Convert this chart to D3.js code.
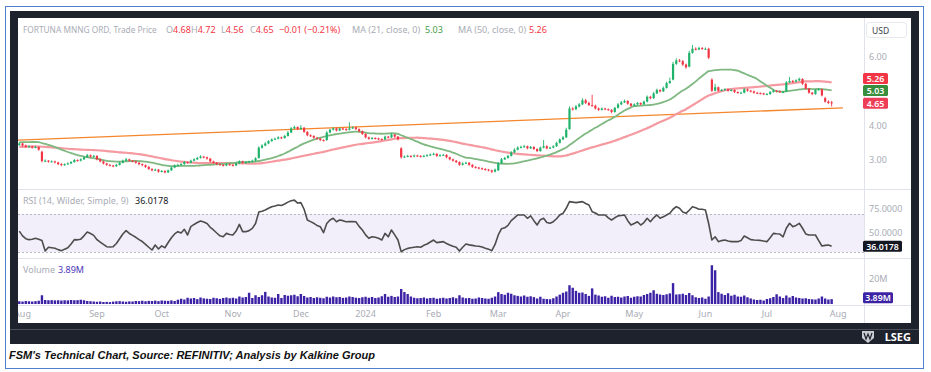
<!DOCTYPE html>
<html>
<head>
<meta charset="utf-8">
<script src="https://cdn.jsdelivr.net/npm/d3@7"></script>
<style>
  body { margin: 0; background: #fff; }
  svg { display: block; font-family: "Noto Sans", "DejaVu Sans", sans-serif; }
</style>
</head>
<body>
<svg id="chart" width="931" height="372"></svg>
<script>
// ---- data (daily bars, Jul 31 2023 .. Jul 30 2024) ----
const holidays = ["2023-09-04", "2023-11-23", "2023-12-25", "2024-01-01", "2024-01-15",
  "2024-02-19", "2024-03-29", "2024-05-27", "2024-06-19", "2024-07-04"];

// closes of the 50 sessions before the window, only used to seed the moving averages
const priorClose = [
  3.30, 3.26, 3.22, 3.25, 3.28, 3.31, 3.34, 3.30, 3.27, 3.24,
  3.22, 3.26, 3.30, 3.33, 3.36, 3.32, 3.29, 3.26, 3.28, 3.31,
  3.33, 3.30, 3.27, 3.25, 3.28, 3.30, 3.32, 3.29, 3.27, 3.30,
  3.30, 3.33, 3.36, 3.34, 3.38, 3.42, 3.46, 3.52, 3.56, 3.60,
  3.62, 3.64, 3.61, 3.63, 3.66, 3.62, 3.58, 3.60, 3.56, 3.50];

const open = [
  3.44, 3.48, 3.42, 3.38, 3.40, 3.36, 3.38, 3.24, 2.97, 2.98,
  2.95, 2.96, 2.93, 2.88, 2.85, 2.88, 2.90, 2.94, 3.00, 2.98,
  3.02, 3.08, 3.14, 3.10, 3.12, 3.02, 2.96, 2.90, 2.86, 2.84,
  2.82, 2.86, 2.92, 2.98, 3.02, 2.98, 2.96, 2.92, 2.88, 2.85,
  2.80, 2.74, 2.70, 2.72, 2.66, 2.68, 2.64, 2.70, 2.78, 2.84,
  2.86, 2.88, 2.94, 2.92, 2.98, 3.02, 3.06, 3.10, 3.08, 3.04,
  2.96, 2.92, 2.88, 2.86, 2.84, 2.88, 2.86, 2.84, 2.90, 2.96,
  2.92, 2.93, 2.95, 2.98, 3.06, 3.36, 3.42, 3.48, 3.55, 3.60,
  3.62, 3.66, 3.64, 3.70, 3.80, 3.92, 3.96, 3.90, 3.94, 3.82,
  3.72, 3.70, 3.65, 3.62, 3.58, 3.58, 3.80, 3.88, 3.92, 3.86,
  3.92, 3.90, 3.88, 3.92, 3.95, 3.90, 3.84, 3.76, 3.66, 3.62,
  3.64, 3.63, 3.61, 3.60, 3.68, 3.66, 3.74, 3.68, 3.34, 3.08,
  3.10, 3.12, 3.10, 3.13, 3.12, 3.10, 3.12, 3.14, 3.16, 3.18,
  3.12, 3.14, 3.15, 3.08, 3.02, 2.98, 2.94, 2.86, 2.90, 2.92,
  2.86, 2.80, 2.78, 2.76, 2.74, 2.72, 2.70, 2.66, 2.70, 2.90,
  3.02, 3.06, 3.12, 3.22, 3.30, 3.36, 3.38, 3.40, 3.34, 3.38,
  3.32, 3.26, 3.36, 3.40, 3.34, 3.36, 3.40, 3.50, 3.60, 3.66,
  3.90, 4.50, 4.48, 4.56, 4.62, 4.74, 4.66, 4.60, 4.58, 4.50,
  4.46, 4.50, 4.48, 4.46, 4.40, 4.52, 4.62, 4.68, 4.72, 4.64,
  4.58, 4.62, 4.66, 4.62, 4.70, 4.84, 4.80, 4.94, 5.04, 5.00,
  5.10, 5.24, 5.34, 5.80, 5.90, 5.88, 5.78, 5.72, 6.12, 6.24,
  6.22, 6.26, 6.24, 6.24, 5.34, 5.02, 5.12, 5.02, 5.04, 5.06,
  5.02, 5.04, 4.98, 4.96, 4.96, 5.06, 5.02, 5.00, 4.96, 4.95,
  4.94, 4.92, 4.92, 4.98, 5.02, 5.00, 4.98, 5.00, 5.26, 5.30,
  5.28, 5.32, 5.36, 5.22, 5.08, 4.96, 4.92, 5.04, 5.06, 4.80,
  4.70, 4.68];

const high = [
  3.52, 3.50, 3.45, 3.43, 3.42, 3.41, 3.40, 3.27, 3.02, 3.00,
  2.99, 2.98, 2.95, 2.91, 2.90, 2.93, 2.97, 3.03, 3.02, 3.05,
  3.11, 3.18, 3.16, 3.15, 3.14, 3.05, 2.98, 2.92, 2.88, 2.86,
  2.89, 2.95, 3.01, 3.06, 3.04, 3.00, 2.98, 2.94, 2.90, 2.87,
  2.82, 2.76, 2.75, 2.74, 2.71, 2.70, 2.72, 2.81, 2.87, 2.89,
  2.91, 2.97, 2.96, 3.01, 3.05, 3.09, 3.14, 3.12, 3.10, 3.06,
  2.98, 2.94, 2.90, 2.88, 2.91, 2.90, 2.88, 2.93, 2.99, 2.98,
  2.96, 2.98, 3.01, 3.08, 3.40, 3.46, 3.52, 3.58, 3.63, 3.65,
  3.69, 3.68, 3.73, 3.84, 3.96, 4.00, 3.98, 4.02, 3.96, 3.84,
  3.75, 3.72, 3.67, 3.64, 3.60, 3.84, 3.91, 3.95, 3.94, 3.95,
  3.94, 3.93, 4.10, 3.98, 3.97, 3.92, 3.86, 3.78, 3.68, 3.67,
  3.66, 3.65, 3.63, 3.71, 3.70, 3.78, 3.76, 3.70, 3.37, 3.13,
  3.15, 3.14, 3.16, 3.15, 3.14, 3.15, 3.17, 3.19, 3.21, 3.20,
  3.17, 3.18, 3.17, 3.10, 3.04, 3.00, 2.96, 2.93, 2.95, 2.94,
  2.88, 2.82, 2.80, 2.78, 2.76, 2.74, 2.72, 2.75, 2.94, 3.06,
  3.09, 3.15, 3.26, 3.34, 3.40, 3.42, 3.44, 3.42, 3.41, 3.40,
  3.34, 3.39, 3.58, 3.43, 3.39, 3.43, 3.53, 3.63, 3.70, 3.94,
  4.56, 4.54, 4.60, 4.66, 4.80, 4.78, 4.70, 4.90, 4.61, 4.53,
  4.53, 4.52, 4.50, 4.48, 4.55, 4.66, 4.72, 4.76, 4.74, 4.66,
  4.65, 4.69, 4.68, 4.73, 4.88, 4.87, 4.98, 5.08, 5.06, 5.14,
  5.28, 5.40, 5.86, 5.96, 5.94, 5.91, 5.81, 6.18, 6.35, 6.28,
  6.30, 6.29, 6.28, 6.27, 5.38, 5.22, 5.14, 5.07, 5.09, 5.08,
  5.07, 5.06, 5.00, 4.99, 5.10, 5.08, 5.04, 5.02, 4.98, 4.97,
  4.96, 4.95, 5.01, 5.05, 5.04, 5.02, 5.01, 5.30, 5.42, 5.33,
  5.35, 5.40, 5.38, 5.24, 5.10, 4.98, 5.07, 5.09, 5.08, 4.84,
  4.74, 4.72];

const low = [
  3.41, 3.39, 3.35, 3.36, 3.33, 3.34, 3.27, 2.93, 2.94, 2.92,
  2.93, 2.90, 2.85, 2.82, 2.83, 2.86, 2.88, 2.92, 2.95, 2.96,
  3.00, 3.06, 3.07, 3.08, 2.99, 2.93, 2.87, 2.83, 2.81, 2.79,
  2.80, 2.84, 2.90, 2.96, 2.95, 2.93, 2.89, 2.85, 2.82, 2.77,
  2.71, 2.67, 2.68, 2.63, 2.64, 2.61, 2.62, 2.68, 2.76, 2.82,
  2.84, 2.86, 2.89, 2.90, 2.96, 3.00, 3.04, 3.05, 3.01, 2.93,
  2.89, 2.85, 2.83, 2.81, 2.82, 2.83, 2.81, 2.82, 2.88, 2.89,
  2.90, 2.91, 2.93, 2.96, 3.04, 3.33, 3.40, 3.46, 3.53, 3.58,
  3.60, 3.61, 3.62, 3.68, 3.78, 3.90, 3.87, 3.88, 3.79, 3.69,
  3.67, 3.62, 3.59, 3.55, 3.54, 3.56, 3.78, 3.86, 3.83, 3.84,
  3.87, 3.85, 3.86, 3.90, 3.87, 3.81, 3.73, 3.63, 3.59, 3.60,
  3.60, 3.58, 3.57, 3.58, 3.63, 3.64, 3.65, 3.57, 3.04, 3.06,
  3.08, 3.07, 3.08, 3.09, 3.07, 3.08, 3.10, 3.12, 3.14, 3.09,
  3.10, 3.12, 3.05, 2.99, 2.95, 2.91, 2.83, 2.84, 2.88, 2.83,
  2.77, 2.75, 2.73, 2.71, 2.69, 2.67, 2.62, 2.64, 2.68, 2.88,
  3.00, 3.04, 3.10, 3.20, 3.28, 3.34, 3.36, 3.31, 3.32, 3.29,
  3.23, 3.24, 3.34, 3.31, 3.32, 3.34, 3.38, 3.48, 3.58, 3.64,
  3.88, 4.44, 4.45, 4.53, 4.60, 4.63, 4.57, 4.55, 4.47, 4.43,
  4.44, 4.45, 4.43, 4.36, 4.38, 4.50, 4.60, 4.66, 4.61, 4.55,
  4.56, 4.60, 4.59, 4.60, 4.68, 4.77, 4.78, 4.92, 4.97, 4.98,
  5.08, 5.22, 5.32, 5.77, 5.85, 5.74, 5.66, 5.70, 6.10, 6.19,
  6.20, 6.21, 6.21, 5.94, 4.98, 5.00, 4.99, 5.00, 5.02, 4.99,
  5.00, 4.95, 4.93, 4.93, 4.94, 4.99, 4.97, 4.93, 4.92, 4.91,
  4.89, 4.89, 4.90, 4.96, 4.97, 4.95, 4.95, 4.98, 5.24, 5.25,
  5.26, 5.30, 5.19, 5.05, 4.93, 4.89, 4.90, 5.02, 4.85, 4.67,
  4.63, 4.56];

const close = [
  3.48, 3.42, 3.38, 3.40, 3.36, 3.38, 3.30, 2.97, 2.98, 2.95,
  2.96, 2.93, 2.88, 2.85, 2.88, 2.90, 2.94, 3.00, 2.98, 3.02,
  3.08, 3.14, 3.10, 3.12, 3.02, 2.96, 2.90, 2.86, 2.84, 2.82,
  2.86, 2.92, 2.98, 3.02, 2.98, 2.96, 2.92, 2.88, 2.85, 2.80,
  2.74, 2.70, 2.72, 2.66, 2.68, 2.64, 2.70, 2.78, 2.84, 2.86,
  2.88, 2.94, 2.92, 2.98, 3.02, 3.06, 3.10, 3.08, 3.04, 2.96,
  2.92, 2.88, 2.86, 2.84, 2.88, 2.86, 2.84, 2.90, 2.96, 2.92,
  2.93, 2.95, 2.98, 3.05, 3.36, 3.42, 3.48, 3.55, 3.60, 3.62,
  3.66, 3.64, 3.70, 3.80, 3.92, 3.96, 3.90, 3.94, 3.82, 3.72,
  3.70, 3.65, 3.62, 3.58, 3.57, 3.80, 3.88, 3.92, 3.86, 3.92,
  3.90, 3.88, 3.92, 3.95, 3.90, 3.84, 3.76, 3.66, 3.62, 3.64,
  3.63, 3.61, 3.60, 3.68, 3.66, 3.74, 3.68, 3.60, 3.08, 3.10,
  3.12, 3.10, 3.13, 3.12, 3.10, 3.12, 3.14, 3.16, 3.18, 3.12,
  3.14, 3.15, 3.08, 3.02, 2.98, 2.94, 2.86, 2.90, 2.92, 2.86,
  2.80, 2.78, 2.76, 2.74, 2.72, 2.70, 2.66, 2.72, 2.90, 3.02,
  3.06, 3.12, 3.22, 3.30, 3.36, 3.38, 3.40, 3.34, 3.38, 3.32,
  3.26, 3.36, 3.40, 3.34, 3.36, 3.40, 3.50, 3.60, 3.66, 3.88,
  4.50, 4.48, 4.56, 4.62, 4.74, 4.66, 4.60, 4.58, 4.50, 4.46,
  4.50, 4.48, 4.46, 4.40, 4.52, 4.62, 4.68, 4.72, 4.64, 4.58,
  4.62, 4.66, 4.62, 4.70, 4.84, 4.80, 4.94, 5.04, 5.00, 5.10,
  5.24, 5.30, 5.80, 5.90, 5.88, 5.78, 5.70, 6.12, 6.24, 6.22,
  6.26, 6.24, 6.24, 5.98, 5.02, 5.12, 5.02, 5.04, 5.06, 5.02,
  5.04, 4.98, 4.96, 4.96, 5.06, 5.02, 5.00, 4.96, 4.95, 4.94,
  4.92, 4.92, 4.98, 5.02, 5.00, 4.98, 4.98, 5.26, 5.30, 5.28,
  5.32, 5.36, 5.22, 5.08, 4.96, 4.92, 5.04, 5.06, 4.88, 4.70,
  4.66, 4.65];

// millions of shares
const volume = [
  2.2, 2.0, 2.4, 2.2, 2.0, 2.3, 2.6, 7.0, 3.2, 3.0,
  3.1, 2.9, 3.0, 2.8, 3.0, 2.9, 3.2, 3.0, 3.1, 3.4,
  3.0, 2.4, 2.2, 2.0, 1.8, 2.0, 1.6, 1.7, 1.5, 1.9,
  2.2, 2.3, 2.0, 1.8, 2.1, 2.0, 2.4, 2.3, 2.6, 2.2,
  2.5, 2.4, 2.7, 2.3, 2.8, 2.6, 2.5, 2.9, 2.4, 3.4,
  4.2, 3.6, 5.0, 4.4, 4.8, 3.9, 5.2, 4.5, 4.2, 4.0,
  5.0, 4.6, 4.1, 4.8, 5.2, 4.6, 5.0, 4.4, 6.0, 5.2,
  5.6, 9.0, 4.8, 7.0, 5.6, 7.0, 9.7, 6.0, 5.2, 5.0,
  8.0, 4.8, 7.2, 6.6, 7.0, 7.4, 6.2, 8.0, 6.4, 5.2,
  5.6, 4.8, 5.4, 5.0, 4.6, 5.8, 5.2, 6.0, 5.4, 5.6,
  4.9, 5.2, 6.0, 5.6, 5.0, 4.8, 5.4, 5.8, 5.0, 5.6,
  4.8, 5.2, 6.2, 8.0, 5.8, 6.5, 5.6, 6.0, 12.0, 9.6,
  8.0, 6.0, 5.0, 4.6, 4.8, 5.2, 4.4, 4.8, 5.0, 4.2,
  4.6, 5.0, 4.4, 4.8, 5.4, 4.6, 7.0, 5.2, 4.6, 4.8,
  4.2, 4.4, 5.2, 4.8, 4.4, 4.2, 5.0, 6.0, 9.5, 8.0,
  7.4, 9.0, 8.2, 7.0, 6.5, 6.0, 6.8, 5.8, 6.2, 5.5,
  4.4, 5.8, 4.2, 4.0, 3.8, 4.6, 6.0, 7.5, 9.0, 10.0,
  15.0, 13.0, 10.5, 9.0, 9.2, 8.0, 6.5, 12.5, 7.5, 6.8,
  5.8, 6.2, 5.0, 6.6, 5.6, 5.8, 5.2, 6.0, 6.4, 5.0,
  5.8, 6.2, 6.0, 7.2, 8.0, 9.0, 11.0, 8.2, 7.6, 7.2,
  7.8, 8.5, 16.7, 7.6, 7.8, 8.2, 7.2, 8.8, 7.0, 5.4,
  4.8, 5.2, 4.2, 6.0, 31.0, 27.0, 9.5, 8.2, 7.2, 8.6,
  6.6, 7.4, 6.0, 5.8, 6.8, 5.4, 4.4, 3.6, 3.2, 3.4,
  2.8, 4.0, 4.6, 5.6, 7.8, 6.0, 4.8, 6.8, 5.2, 6.4,
  5.2, 4.8, 4.4, 4.6, 4.0, 3.8, 3.6, 4.4, 6.0, 4.4,
  3.6, 3.89];

// RSI(14) as plotted
const rsi = [
  52, 47, 44, 43, 43.5, 44.4, 43.5, 42, 31, 35,
  34.5, 34, 32.5, 31.4, 33, 34.5, 38.5, 43, 42.8, 43.5,
  47, 51, 49.5, 47.5, 43, 40.5, 38, 35.6, 35.2, 35.6,
  39, 44, 49, 52.5, 49.5, 47.5, 45.5, 43, 41, 38,
  35, 32.1, 37.4, 33.2, 36.5, 34.5, 40, 45, 49, 51.4,
  50, 53.9, 47.9, 56.7, 59, 61, 62.6, 61.5, 60, 56,
  53.2, 50, 47, 46, 49.6, 48.5, 47.9, 52, 59, 51.4,
  51.4, 52.5, 54.9, 60, 72, 73, 74.2, 76, 77.7, 78.5,
  79.5, 79, 80.5, 82.5, 84, 84.6, 81.5, 82, 75, 63.7,
  62, 60.2, 58, 56.7, 50.3, 60, 63.7, 65.5, 61.9, 63.7,
  63, 61.9, 62, 62, 61.9, 57, 53.2, 48, 44.4, 46,
  45.5, 44.4, 42.6, 49.6, 46, 53.2, 48, 42.6, 30.3, 32.5,
  33.8, 34.5, 35, 35.5, 35, 37, 38.4, 40.5, 42.6, 39.9,
  40.4, 40.9, 39, 37.4, 36, 35, 31, 35, 38.4, 37.5,
  37, 36.3, 36, 35.2, 34, 33, 31.4, 38, 48, 54.5,
  55.5, 58, 63, 66, 69, 69, 69, 65.5, 68, 63,
  58.4, 64, 65.5, 61, 60.2, 61.9, 65, 69, 70.7, 76,
  83, 82.5, 82, 82.5, 83, 81, 79.5, 72.4, 71, 69,
  69, 69, 66, 63.7, 66, 68, 68.5, 69, 63, 58.4,
  60, 61.9, 58.4, 61, 65.5, 61.9, 66, 69, 65.5, 67,
  69, 70.7, 75, 77.7, 76, 72, 70.7, 74, 77.7, 76.5,
  75, 75, 74.2, 60, 42.6, 46, 40.9, 42, 42.6, 41.5,
  40.9, 41, 40.9, 42, 46.8, 45, 43, 42.6, 42.4, 42.2,
  41.5, 40.9, 45, 49.6, 49.2, 48.9, 46, 55, 60.2, 56.7,
  58, 60.2, 55, 49, 47.9, 47.9, 47.9, 42, 36.3, 37,
  37.4, 36.0178];

// hand-drawn trend line: [bar index, price] at both ends
const trendIdx = [-0.4, 254.5];
const trendPrice = [3.58, 4.52];

const rsiTicks = [50, 75];
const volTicks = [20];

// ---- layout ----
const plotL = 18, plotR = 864, axisR = 911;
const mainTop = 18, mainBot = 189, rsiBot = 258, volBot = 305, chartBot = 323;
const upColor = "#1fb26a", downColor = "#f23645";
const textGray = "#a9acb5";

// trading days, used for the month labels
const parseDay = d3.utcParse("%Y-%m-%d"), fmtDay = d3.utcFormat("%Y-%m-%d");
const days = d3.utcDay.range(parseDay("2023-07-31"), parseDay("2024-08-06"))
  .filter((d) => d.getUTCDay() % 6 !== 0 && !holidays.includes(fmtDay(d)));

// moving averages of close, seeded with the earlier sessions
const allClose = priorClose.concat(close);
const sma = (n) => close.map((_, i) =>
  d3.mean(allClose.slice(i + priorClose.length - n + 1, i + priorClose.length + 1)));
const ma21 = sma(21);
const ma50 = sma(50);

// scales
const x = d3.scaleLinear().domain([-0.4, 261]).range([plotL, plotR]);
const yP = d3.scaleLinear().domain([3, 6]).range([160, 57]);
const yR = d3.scaleLinear().domain([30, 70]).range([252, 214]);
const yV = d3.scaleLinear().domain([0, 20]).range([304, 279]);

const svg = d3.select("#chart");

// ---- frame ----
svg.append("rect").attr("x", 5.5).attr("y", 6.5).attr("width", 918).attr("height", 362)
  .attr("fill", "#fff").attr("stroke", "#4f7fcf");
svg.append("rect").attr("x", 10).attr("y", 11).attr("width", 909).attr("height", 333)
  .attr("fill", "#1e222d");
svg.append("rect").attr("x", plotL).attr("y", mainTop).attr("width", axisR - plotL)
  .attr("height", chartBot - mainTop).attr("fill", "#fff");

const defs = svg.append("defs");
function clip(id, y0, y1) {
  defs.append("clipPath").attr("id", id).append("rect")
    .attr("x", plotL).attr("y", y0).attr("width", plotR - plotL).attr("height", y1 - y0);
  return `url(#${id})`;
}
const clipMain = clip("c-main", mainTop, mainBot);
const clipRsi = clip("c-rsi", mainBot, rsiBot);
const clipVol = clip("c-vol", rsiBot, volBot);
const clipTime = clip("c-time", volBot, chartBot);

// pane separators
svg.append("g").attr("stroke", "#e0e3eb")
  .selectAll("line").data([mainBot, rsiBot, volBot]).join("line")
  .attr("x1", plotL).attr("x2", axisR)
  .attr("y1", (d) => d + 0.5).attr("y2", (d) => d + 0.5);
svg.append("line").attr("stroke", "#e0e3eb")
  .attr("x1", plotR + 0.5).attr("x2", plotR + 0.5).attr("y1", mainTop).attr("y2", chartBot);

// ---- main pane ----
const main = svg.append("g").attr("clip-path", clipMain);
const idx = d3.range(close.length);

main.append("path")
  .attr("d", d3.line().x((d) => x(d[0])).y((d) => yP(d[1]))(d3.zip(trendIdx, trendPrice)))
  .attr("fill", "none").attr("stroke", "#f5862c").attr("stroke-width", 1.3);

main.append("path")
  .attr("d", d3.line().x((d, i) => x(i)).y((d) => yP(d)).curve(d3.curveMonotoneX)(ma50))
  .attr("fill", "none").attr("stroke", "#f59aa1").attr("stroke-width", 2.2);

main.append("path")
  .attr("d", d3.line().x((d, i) => x(i)).y((d) => yP(d)).curve(d3.curveMonotoneX)(ma21))
  .attr("fill", "none").attr("stroke", "#7fb881").attr("stroke-width", 1.8);

const candle = main.append("g").selectAll("g").data(idx).join("g")
  .attr("fill", (i) => (close[i] >= open[i] ? upColor : downColor))
  .attr("stroke", (i) => (close[i] >= open[i] ? upColor : downColor));
candle.append("line")
  .attr("x1", (i) => x(i)).attr("x2", (i) => x(i))
  .attr("y1", (i) => yP(high[i])).attr("y2", (i) => yP(low[i]))
  .attr("stroke-width", 0.9);
candle.append("rect")
  .attr("stroke", "none")
  .attr("x", (i) => x(i) - 1.1).attr("width", 2.2)
  .attr("y", (i) => yP(Math.max(open[i], close[i])))
  .attr("height", (i) => Math.max(1, Math.abs(yP(open[i]) - yP(close[i]))));

// ---- RSI pane ----
const rsiG = svg.append("g").attr("clip-path", clipRsi);
rsiG.append("rect").attr("x", plotL).attr("width", plotR - plotL)
  .attr("y", yR(70)).attr("height", yR(30) - yR(70)).attr("fill", "#f3effa");
rsiG.append("g").attr("stroke", "#b7b9c0").attr("stroke-dasharray", "2,2")
  .selectAll("line").data([70, 30]).join("line")
  .attr("x1", plotL).attr("x2", plotR)
  .attr("y1", (d) => yR(d) + 0.5).attr("y2", (d) => yR(d) + 0.5);
rsiG.append("path")
  .attr("d", d3.line().x((d, i) => x(i)).y((d) => yR(d))(rsi))
  .attr("fill", "none").attr("stroke", "#4d4d4d").attr("stroke-width", 1.6)
  .attr("stroke-linejoin", "round");

// ---- volume pane ----
svg.append("g").attr("clip-path", clipVol).attr("fill", "#3c23a5")
  .selectAll("rect").data(volume).join("rect")
  .attr("x", (d, i) => x(i) - 1.2).attr("width", 2.4)
  .attr("y", (d) => yV(d)).attr("height", (d) => yV(0) - yV(d));

// ---- right axis ----
const axisG = svg.append("g").attr("font-size", 9).attr("fill", textGray);
const f2 = d3.format(".2f");
const last = close.length - 1;

const badges = [
  { v: ma50[last], fill: "#f23645" },
  { v: ma21[last], fill: "#388e3c" },
  { v: close[last], fill: close[last] >= open[last] ? upColor : "#ee3d57" },
].map((b) => ({ ...b, y: yP(b.v) })).sort((a, b) => a.y - b.y);
for (let k = badges.length - 2; k >= 0; k--) {
  if (badges[k].y > badges[k + 1].y - 12) badges[k].y = badges[k + 1].y - 12;
}

axisG.selectAll(".ptick")
  .data(yP.ticks(3).filter((t) => badges.every((b) => Math.abs(yP(t) - b.y) > 9)))
  .join("text").attr("class", "ptick")
  .attr("x", 869).attr("y", (d) => yP(d) + 3).text(f2);

axisG.selectAll(".rtick").data(rsiTicks).join("text").attr("class", "rtick")
  .attr("x", 869).attr("y", (d) => yR(d) + 3).text(d3.format(".4f"));

const fVol = (v) => d3.format(".3~s")(v * 1e6);
axisG.selectAll(".vtick").data(volTicks).join("text").attr("class", "vtick")
  .attr("x", 869).attr("y", (d) => yV(d) + 3).text(fVol);

// USD box
svg.append("rect").attr("x", 866.5).attr("y", 22.5).attr("width", 40).attr("height", 15)
  .attr("rx", 3).attr("fill", "#fff").attr("stroke", "#e6e8ee");
svg.append("text").attr("x", 872).attr("y", 33.5).attr("font-size", 8.5)
  .attr("fill", "#3a3e4a").text("USD");

function badge(yc, label, fill, w) {
  svg.append("rect").attr("x", 863).attr("y", yc - 5.5).attr("width", w).attr("height", 11)
    .attr("rx", 1.5).attr("fill", fill);
  svg.append("text").attr("x", 863 + w / 2).attr("y", yc + 3.3).attr("text-anchor", "middle")
    .attr("font-size", 8.8).attr("font-weight", 600).attr("fill", "#fff").text(label);
}
badges.forEach((b) => badge(b.y, f2(b.v), b.fill, 25));
badge(yR(rsi[last]), d3.format(".4f")(rsi[last]), "#131722", 39);
badge(yV(volume[last]) - 1.5, fVol(volume[last]), "#3c23a5", 30);

// ---- time axis ----
const monthStarts = days.map((d, i) => ({ d, i }))
  .filter((o) => o.i > 0 && o.d.getUTCMonth() !== days[o.i - 1].getUTCMonth());
svg.append("g").attr("clip-path", clipTime).attr("font-size", 9).attr("fill", textGray)
  .attr("text-anchor", "middle")
  .selectAll("text").data(monthStarts).join("text")
  .attr("x", (o) => x(o.i)).attr("y", 317)
  .text((o) => (o.d.getUTCMonth() === 0 ? d3.utcFormat("%Y")(o.d) : d3.utcFormat("%b")(o.d)));

// ---- legends ----
// each item: x, [text, colour] runs drawn as tspans of one text, optional font size
const red = "#f23645";
const chg = close[last] - close[last - 1];
const legend = [
  [23, [["FORTUNA MNNG ORD, Trade Price", textGray]], 8.3],
  [166, [["O", textGray], [f2(open[last]), red]]],
  [191, [["H", textGray], [f2(high[last]), red]]],
  [221, [["L", textGray], [f2(low[last]), red]]],
  [250, [["C", textGray], [f2(close[last]), red]]],
  [279, [[`${f2(chg)} (${f2((chg / close[last - 1]) * 100)}%)`, red]]],
  [352, [["MA (21, close, 0)", textGray]]],
  [425, [[f2(ma21[last]), "#43a047"]]],
  [458, [["MA (50, close, 0)", textGray]]],
  [529, [[f2(ma50[last]), red]]],
];
function drawLegend(items, y) {
  const t = svg.append("g").attr("font-size", 9).selectAll("text").data(items).join("text")
    .attr("x", (d) => d[0]).attr("y", y)
    .attr("font-size", (d) => d[2] || null);
  t.selectAll("tspan").data((d) => d[1]).join("tspan")
    .attr("fill", (r) => r[1]).text((r) => r[0]);
}
drawLegend(legend, 33);
drawLegend([[23, [["RSI (14, Wilder, Simple, 9)", textGray]]],
  [135, [[d3.format(".4f")(rsi[last]), "#131722"]]]], 204);
drawLegend([[23, [["Volume", textGray]]], [58, [[fVol(volume[last]), "#4b34b8"]]]], 273);

// ---- footer band ----
svg.append("line").attr("x1", 10).attr("x2", 919).attr("y1", 329.5).attr("y2", 329.5)
  .attr("stroke", "#4a4e5a");
const logo = svg.append("g").attr("transform", "translate(862,331)");
logo.append("path").attr("d", "M0,0 H12 V7 L6,12 L0,7 Z").attr("fill", "#c9ccd3");
logo.append("path").attr("d", "M2,2 L4,8 L6,3 L8,8 L10,2").attr("fill", "none")
  .attr("stroke", "#1e222d").attr("stroke-width", 1.2);
svg.append("text").attr("x", 911).attr("y", 341).attr("text-anchor", "end")
  .attr("font-size", 11).attr("font-weight", 700).attr("fill", "#fff").text("LSEG");

// caption
svg.append("text").attr("x", 9).attr("y", 359)
  .attr("font-family", "'Liberation Sans', Arial, sans-serif")
  .attr("font-size", 11).attr("font-weight", 700).attr("font-style", "italic")
  .attr("fill", "#111").attr("textLength", 366).attr("lengthAdjust", "spacingAndGlyphs")
  .text("FSM's Technical Chart, Source: REFINITIV; Analysis by Kalkine Group");
</script>
</body>
</html>
